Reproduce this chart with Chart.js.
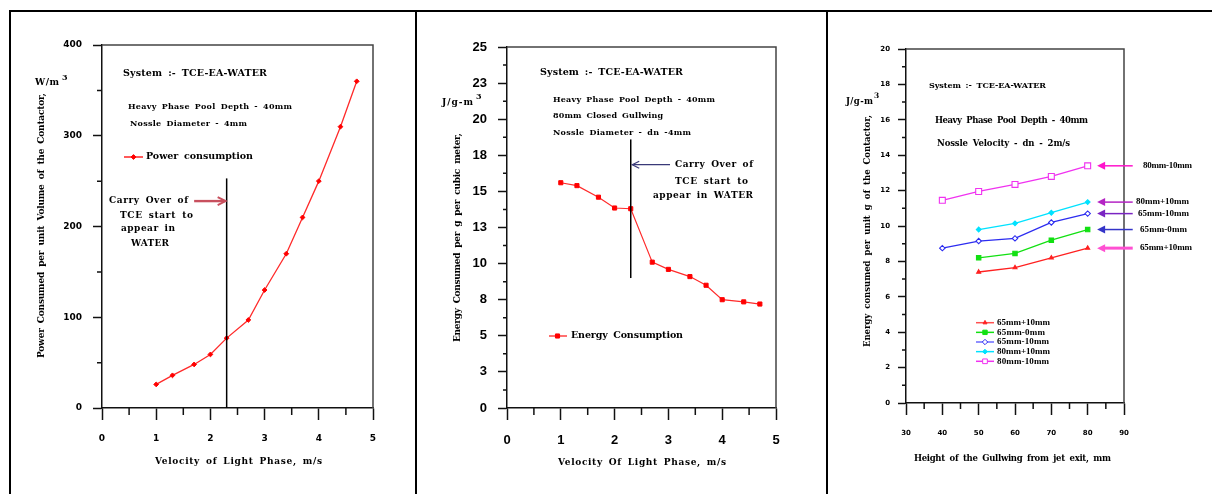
<!DOCTYPE html>
<html>
<head>
<meta charset="utf-8">
<script src="https://cdn.jsdelivr.net/npm/chart.js@4.4.1/dist/chart.umd.min.js"></script>
<style>
  html, body { margin: 0; padding: 0; background: #fff; }
  #page { position: relative; width: 1212px; height: 494px; overflow: hidden; background: #fff; }
  .rule { position: absolute; background: #000; }
  .panel { position: absolute; top: 12px; height: 482px; }
  canvas { display: block; }
</style>
</head>
<body>
<div id="page">
  <div class="rule" style="left:9px;top:10px;width:1203px;height:2px"></div>
  <div class="rule" style="left:9px;top:10px;width:2px;height:484px"></div>
  <div class="rule" style="left:415px;top:10px;width:2px;height:484px"></div>
  <div class="rule" style="left:826px;top:10px;width:2px;height:484px"></div>
  <div class="panel" style="left:11px;width:404px"><canvas id="c1" width="404" height="482"></canvas></div>
  <div class="panel" style="left:417px;width:409px"><canvas id="c2" width="409" height="482"></canvas></div>
  <div class="panel" style="left:828px;width:384px"><canvas id="c3" width="384" height="482"></canvas></div>
</div>
<script>
// Valores (3 paneles). Velocidad de la fase ligera en m/s.
var VELOCITY = [1, 1.3, 1.7, 2, 2.3, 2.7, 3, 3.4, 3.7, 4, 4.4, 4.7];
var POWER = [26, 36, 48, 59, 77, 97, 130, 170, 210, 250, 310, 360];
var ENERGY = [15.6, 15.4, 14.6, 13.85, 13.8, 10.1, 9.6, 9.1, 8.5, 7.5, 7.35, 7.2];
var CARRY_OVER_V = 2.3;
var CARRY_LINE_POWER = [0, 253];
var CARRY_LINE_ENERGY = [9.0, 18.6];
var ENERGY_TICK_LABELS = ["0", "3", "5", "8", "10", "13", "15", "18", "20", "23", "25"];

// Panel 3: altura del gullwing (mm) y energía por serie
var HEIGHT = [40, 50, 60, 70, 80];
var E_65_P10 = [null, 7.4, 7.65, 8.2, 8.75];
var E_65_M0 = [null, 8.2, 8.45, 9.2, 9.8];
var E_65_M10 = [8.75, 9.15, 9.3, 10.2, 10.7];
var E_80_P10 = [null, 9.8, 10.15, 10.75, 11.35];
var E_80_M10 = [11.45, 11.95, 12.35, 12.8, 13.4];
var SERIES_NAMES = ["65mm+10mm", "65mm-0mm", "65mm-10mm", "80mm+10mm", "80mm-10mm"];

var SERIF = '"DejaVu Serif", "Liberation Serif", serif';
var NARROW_SERIF = '"Liberation Serif", "DejaVu Serif", serif';

function pairs(xs, ys) {
  var out = [];
  for (var i = 0; i < xs.length; i++) if (ys[i] != null) out.push({ x: xs[i], y: ys[i] });
  return out;
}

// Texto en negrita ajustado a un ancho (el original tiene letras muy espaciadas)
function fitText(ctx, str, x1, x2, y, size, family) {
  ctx.font = 'bold ' + size + 'px ' + (family || SERIF);
  ctx.textBaseline = 'middle';
  ctx.textAlign = 'left';
  ctx.fillStyle = '#000';
  var hasLS = ('letterSpacing' in ctx);
  if ('wordSpacing' in ctx) ctx.wordSpacing = (size * 0.25) + 'px';
  if (hasLS) ctx.letterSpacing = '0px';
  if (x2 == null || str.length < 2) { ctx.fillText(str, x1, y); return; }
  var w = ctx.measureText(str).width;
  var target = x2 - x1;
  if (hasLS) {
    ctx.letterSpacing = ((target - w) / (str.length - 1)) + 'px';
    ctx.fillText(str, x1, y);
    ctx.letterSpacing = '0px';
  } else {
    ctx.save(); ctx.translate(x1, y); ctx.scale(target / w, 1); ctx.fillText(str, 0, 0); ctx.restore();
  }
}

function vText(ctx, str, x, yTop, yBottom, size) {
  ctx.save();
  ctx.translate(x, yBottom);
  ctx.rotate(-Math.PI / 2);
  fitText(ctx, str, 0, yBottom - yTop, 0, size);
  ctx.restore();
}

function marker(ctx, style, x, y, r, color, filled) {
  ctx.beginPath();
  if (style === 'rect') {
    var s = r * Math.SQRT1_2;
    ctx.rect(x - s, y - s, 2 * s, 2 * s);
  } else if (style === 'triangle') {
    ctx.moveTo(x, y - r); ctx.lineTo(x + r * 0.87, y + r * 0.5); ctx.lineTo(x - r * 0.87, y + r * 0.5); ctx.closePath();
  } else {
    ctx.moveTo(x, y - r); ctx.lineTo(x + r, y); ctx.lineTo(x, y + r); ctx.lineTo(x - r, y); ctx.closePath();
  }
  ctx.fillStyle = filled ? color : '#fff';
  ctx.fill();
  ctx.strokeStyle = color; ctx.lineWidth = 1; ctx.stroke();
}

function arrow(ctx, x1, y1, x2, y2, color, width, head, filled) {
  var ang = Math.atan2(y2 - y1, x2 - x1);
  ctx.strokeStyle = color; ctx.fillStyle = color; ctx.lineWidth = width;
  ctx.beginPath(); ctx.moveTo(x1, y1); ctx.lineTo(x2 - Math.cos(ang) * (filled ? head * 0.8 : 1), y2); ctx.stroke();
  var hx = x2 - Math.cos(ang) * head, hy = y2 - Math.sin(ang) * head;
  var nx = -Math.sin(ang) * head * 0.5, ny = Math.cos(ang) * head * 0.5;
  ctx.beginPath();
  ctx.moveTo(hx + nx, hy + ny); ctx.lineTo(x2, y2); ctx.lineTo(hx - nx, hy - ny);
  if (filled) { ctx.closePath(); ctx.fill(); } else { ctx.lineWidth = Math.max(1.2, width * 0.8); ctx.stroke(); }
}

// Marco superior/derecho y ticks menores (los mayores los pinta Chart.js)
function frame(ctx, chart, xStep, yStep, xLen, yLen) {
  var a = chart.chartArea, sx = chart.scales.x, sy = chart.scales.y;
  ctx.strokeStyle = '#444'; ctx.lineWidth = 1.5;
  ctx.beginPath(); ctx.moveTo(a.left, a.top); ctx.lineTo(a.right, a.top); ctx.lineTo(a.right, a.bottom); ctx.stroke();
  ctx.strokeStyle = '#111'; ctx.lineWidth = 1.5;
  ctx.beginPath();
  for (var v = sx.min + xStep / 2; v < sx.max; v += xStep) {
    var p = sx.getPixelForValue(v); ctx.moveTo(p, a.bottom); ctx.lineTo(p, a.bottom + xLen);
  }
  for (var w = sy.min + yStep / 2; w < sy.max; w += yStep) {
    var q = sy.getPixelForValue(w); ctx.moveTo(a.left, q); ctx.lineTo(a.left - yLen, q);
  }
  ctx.stroke();
}

function axis(min, max, step, tickLen, font, pad, size, cb) {
  var ax = {
    type: 'linear', min: min, max: max,
    afterFit: function (s) { if (s.isHorizontal()) s.height = size; else s.width = size; },
    ticks: { stepSize: step, color: '#000', font: font, padding: pad, autoSkip: false, maxRotation: 0 },
    grid: { drawOnChartArea: false, drawTicks: true, tickLength: tickLen, tickColor: '#111', tickWidth: 1.5 },
    border: { display: true, color: '#111', width: 1.5 }
  };
  if (cb) ax.ticks.callback = cb;
  return ax;
}

function baseOptions(padding, x, y) {
  return {
    responsive: false, animation: false, devicePixelRatio: 1,
    layout: { padding: padding },
    plugins: { legend: { display: false }, tooltip: { enabled: false } },
    scales: { x: x, y: y }
  };
}

// ---------- Panel 1: potencia ----------
var fontP1 = { family: 'DejaVu Sans', size: 9, weight: 'bold' };
new Chart(document.getElementById('c1'), {
  type: 'line',
  data: { datasets: [{
    data: pairs(VELOCITY, POWER), borderColor: '#ff2a2a', borderWidth: 1.3, tension: 0,
    pointStyle: 'rectRot', pointRadius: 2.4, pointBackgroundColor: '#ff0000', pointBorderColor: '#ff0000', pointBorderWidth: 1
  }] },
  options: baseOptions({ left: 51, right: 42, top: 33, bottom: 36 },
    axis(0, 5, 1, 12, fontP1, 13, 50),
    axis(0, 400, 100, 9, fontP1, 11, 40)),
  plugins: [{
    id: 'panel1',
    afterDraw: function (chart) {
      var ctx = chart.ctx, sx = chart.scales.x, sy = chart.scales.y;
      ctx.save();
      frame(ctx, chart, 1, 100, 7, 5);
      // línea de arrastre de TCE
      var cx = sx.getPixelForValue(CARRY_OVER_V);
      ctx.strokeStyle = '#000'; ctx.lineWidth = 1.5;
      ctx.beginPath(); ctx.moveTo(cx, sy.getPixelForValue(CARRY_LINE_POWER[0])); ctx.lineTo(cx, sy.getPixelForValue(CARRY_LINE_POWER[1])); ctx.stroke();
      var ay = sy.getPixelForValue(228);
      arrow(ctx, sx.getPixelForValue(1.7), ay, cx - 1, ay, '#c8505e', 2.4, 8, false);
      ctx.translate(-11, -12);
      fitText(ctx, 'System :- TCE-EA-WATER', 123, 267, 74, 9.5);
      fitText(ctx, 'Heavy Phase Pool Depth - 40mm', 128, 292, 107, 8);
      fitText(ctx, 'Nossle Diameter - 4mm', 130, 247, 124, 8);
      ctx.strokeStyle = '#ff5a5a'; ctx.lineWidth = 2;
      ctx.beginPath(); ctx.moveTo(124, 157); ctx.lineTo(143, 157); ctx.stroke();
      marker(ctx, 'rectRot', 133.5, 157, 2.4, '#ff0000', true);
      fitText(ctx, 'Power consumption', 146, 253, 157, 9.5);
      fitText(ctx, 'Carry Over of', 109, 188, 201, 9);
      fitText(ctx, 'TCE start to', 120, 193, 216, 9);
      fitText(ctx, 'appear in', 121, 175, 229, 9);
      fitText(ctx, 'WATER', 131, 169, 244, 9);
      fitText(ctx, 'W/m', 35, 59, 83, 9);
      fitText(ctx, '3', 62, null, 78, 8);
      fitText(ctx, 'Velocity of Light Phase, m/s', 155, 322, 462, 9);
      vText(ctx, 'Power Consumed per unit Volume of the Contactor,', 42, 93, 358, 9);
      ctx.restore();
    }
  }]
});

// ---------- Panel 2: energía ----------
var fontP2 = { family: 'Liberation Sans', size: 13, weight: 'bold' };
new Chart(document.getElementById('c2'), {
  type: 'line',
  data: { datasets: [{
    data: pairs(VELOCITY, ENERGY), borderColor: '#ff2a2a', borderWidth: 1.2, tension: 0,
    pointStyle: 'rect', pointRadius: 2.9, pointBackgroundColor: '#ff0000', pointBorderColor: '#ff0000', pointBorderWidth: 1
  }] },
  options: baseOptions({ left: 50, right: 50, top: 35, bottom: 36 },
    axis(0, 5, 1, 12, fontP2, 13, 50),
    axis(0, 25, 2.5, 9, fontP2, 11, 40, function (v, i) { return ENERGY_TICK_LABELS[i]; })),
  plugins: [{
    id: 'panel2',
    afterDraw: function (chart) {
      var ctx = chart.ctx, sx = chart.scales.x, sy = chart.scales.y;
      ctx.save();
      frame(ctx, chart, 1, 2.5, 7, 4);
      var cx = sx.getPixelForValue(CARRY_OVER_V);
      ctx.strokeStyle = '#000'; ctx.lineWidth = 1.5;
      ctx.beginPath(); ctx.moveTo(cx, sy.getPixelForValue(CARRY_LINE_ENERGY[0])); ctx.lineTo(cx, sy.getPixelForValue(CARRY_LINE_ENERGY[1])); ctx.stroke();
      var ay = sy.getPixelForValue(16.85);
      arrow(ctx, sx.getPixelForValue(3.03), ay, cx + 1.5, ay, '#3a3a78', 1.3, 7, false);
      ctx.translate(-417, -12);
      fitText(ctx, 'System :- TCE-EA-WATER', 540, 683, 73, 9.5);
      fitText(ctx, 'Heavy Phase Pool Depth - 40mm', 553, 715, 99.5, 8);
      fitText(ctx, '80mm Closed Gullwing', 553, 663, 116, 8);
      fitText(ctx, 'Nossle Diameter - dn -4mm', 553, 691, 133, 8);
      fitText(ctx, 'Carry Over of', 675, 753, 164.7, 9);
      fitText(ctx, 'TCE start to', 675, 748, 182, 9);
      fitText(ctx, 'appear in WATER', 653, 753, 196, 9);
      ctx.strokeStyle = '#ff4040'; ctx.lineWidth = 1.5;
      ctx.beginPath(); ctx.moveTo(549, 336); ctx.lineTo(567, 336); ctx.stroke();
      marker(ctx, 'rect', 557.5, 336, 2.9, '#ff0000', true);
      fitText(ctx, 'Energy Consumption', 571, 683, 336, 9.5);
      fitText(ctx, 'J/g-m', 442, 473, 102.5, 9);
      fitText(ctx, '3', 476, null, 97, 8);
      fitText(ctx, 'Velocity Of Light Phase, m/s', 558, 726, 463, 9);
      vText(ctx, 'Energy Consumed per g per cubic meter,', 458, 133, 342, 9);
      ctx.restore();
    }
  }]
});

// ---------- Panel 3: energía vs altura del gullwing ----------
var STYLE3 = [
  { data: E_65_P10, line: '#ff2020', legend: '#ff5050', point: 'triangle', r: 2.3, fill: true, arrow: '#ff50d2', aw: 3 },
  { data: E_65_M0, line: '#12e012', legend: '#12e012', point: 'rect', r: 3.1, fill: true, arrow: '#3434c8', aw: 1.5 },
  { data: E_65_M10, line: '#2c2cf0', legend: '#6a6aff', point: 'rectRot', r: 2.7, fill: false, arrow: '#7a24c2', aw: 1.5 },
  { data: E_80_P10, line: '#00e2ff', legend: '#00e2ff', point: 'rectRot', r: 2.4, fill: true, arrow: '#b424c4', aw: 1.5 },
  { data: E_80_M10, line: '#f032f0', legend: '#f032f0', point: 'rect', r: 4.2, fill: false, arrow: '#ff14cc', aw: 1.5 }
];
// extremos (px de página) de cada rótulo de la derecha y de la leyenda
var RIGHT_LABEL_X = [[1140, 1192], [1140, 1187], [1138, 1189], [1136, 1189], [1143, 1192]];
var LEGEND_LABEL_X = [[997, 1050], [997, 1045], [997, 1049], [997, 1050], [997, 1049]];
var fontP3 = { family: 'DejaVu Sans', size: 7, weight: 'bold' };
new Chart(document.getElementById('c3'), {
  type: 'line',
  data: { datasets: STYLE3.map(function (s, i) {
    return {
      label: SERIES_NAMES[i], data: pairs(HEIGHT, s.data), borderColor: s.line, borderWidth: 1.3, tension: 0,
      pointStyle: s.point, pointRadius: s.r, pointBorderColor: s.line, pointBorderWidth: 1.1,
      pointBackgroundColor: s.fill ? s.line : '#fff'
    };
  }) },
  options: baseOptions({ left: 48, right: 88, top: 37, bottom: 41 },
    axis(30, 90, 10, 12, fontP3, 14, 50),
    axis(0, 20, 2, 8, fontP3, 8, 30)),
  plugins: [{
    id: 'panel3',
    afterDraw: function (chart) {
      var ctx = chart.ctx, sx = chart.scales.x, sy = chart.scales.y;
      ctx.save();
      frame(ctx, chart, 10, 2, 6, 4);
      // flechas con el nombre de cada serie, a la altura de su último punto
      STYLE3.forEach(function (s, i) {
        var y = sy.getPixelForValue(s.data[s.data.length - 1]);
        arrow(ctx, sx.getPixelForValue(92.4), y, sx.getPixelForValue(82.6), y, s.arrow, s.aw, 8, true);
        fitText(ctx, SERIES_NAMES[i], RIGHT_LABEL_X[i][0] - 828, RIGHT_LABEL_X[i][1] - 828, y, 9, NARROW_SERIF);
      });
      ctx.translate(-828, -12);
      fitText(ctx, 'System :- TCE-EA-WATER', 929, 1046, 85.5, 8);
      fitText(ctx, 'Heavy Phase Pool Depth - 40mm', 935, 1088, 120.7, 8.5);
      fitText(ctx, 'Nossle Velocity - dn - 2m/s', 937, 1070, 144, 8.5);
      STYLE3.forEach(function (s, i) {
        var ly = 322.7 + i * 9.65;
        ctx.strokeStyle = s.legend; ctx.lineWidth = 1.5;
        ctx.beginPath(); ctx.moveTo(976, ly); ctx.lineTo(994, ly); ctx.stroke();
        marker(ctx, s.point, 985, ly, Math.min(s.r, 3.3), s.line, s.fill);
        fitText(ctx, SERIES_NAMES[i], LEGEND_LABEL_X[i][0], LEGEND_LABEL_X[i][1], ly, 9, NARROW_SERIF);
      });
      fitText(ctx, 'J/g-m', 846, 873, 102, 8.5);
      fitText(ctx, '3', 874, null, 96, 7.5);
      fitText(ctx, 'Height of the Gullwing from jet exit, mm', 914, 1111, 459, 8.5);
      vText(ctx, 'Energy consumed per unit g of the Contactor,', 868, 115, 347, 8.5);
      ctx.restore();
    }
  }]
});
</script>
</body>
</html>
